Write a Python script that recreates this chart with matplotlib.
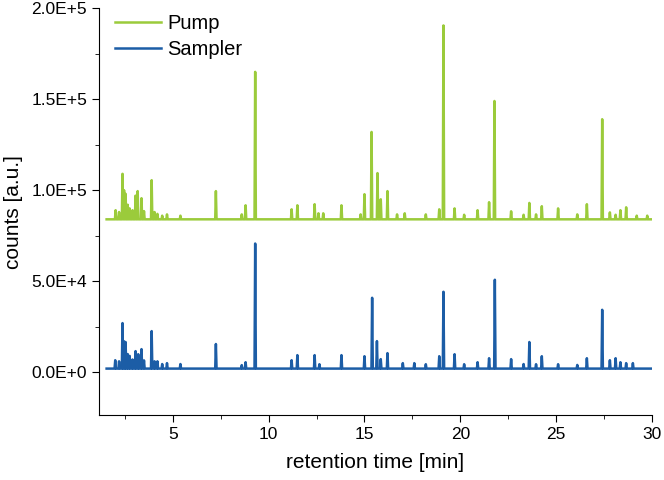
import matplotlib
matplotlib.use('Agg')
from matplotlib import pyplot as plt
from matplotlib.ticker import MultipleLocator

# peak positions [min] and apex heights [counts]
pump_t = [2.02, 2.2, 2.38, 2.46, 2.54, 2.65, 2.75, 2.9, 3.06, 3.17, 3.37, 3.5,
          3.9, 4.05, 4.2, 4.45, 4.7, 5.4,
          7.25, 8.6, 8.8, 9.3, 11.2, 11.5, 12.4, 12.6, 12.85, 13.8, 14.8, 15.0,
          15.37, 15.68, 15.85, 16.2, 16.7, 17.1, 18.2, 18.9, 19.12, 19.7, 20.2,
          20.9, 21.5, 21.78, 22.65, 23.3, 23.6, 23.95, 24.25, 25.1, 26.1, 26.6,
          27.4, 27.8, 28.1, 28.35, 28.65, 29.2, 29.75]
pump_counts = [89000, 88000, 109000, 100000, 98000, 92000, 90000, 89000, 97000,
               99500, 95600, 88500, 105500, 88000, 87000, 86000, 86700, 86000,
               99500, 86700, 91700, 165000, 89500, 91700,
               92300, 87300, 87300, 91700, 86700, 97800, 132000, 109400, 95000,
               99500, 86700, 87300, 86700, 89500, 190500, 90000, 86500, 89000,
               93400, 149000, 88400, 86500, 93000, 86700, 91200, 90000, 86700,
               92300, 139000, 87800, 86500, 89000, 90600, 86000, 86000]
pump_base = 84000

sampler_t = [2.0, 2.2, 2.38, 2.46, 2.54, 2.65, 2.75, 2.9, 3.06, 3.2, 3.37, 3.5,
             3.9, 4.05, 4.2, 4.45, 4.7, 5.4,
             7.25, 8.6, 8.8, 9.3, 11.2, 11.5, 12.4, 12.65, 13.8, 15.0, 15.4,
             15.65, 15.85, 16.2, 17.0, 17.6, 18.2, 18.9, 19.12, 19.7, 20.2, 20.9,
             21.5, 21.8, 22.65, 23.3, 23.6, 23.95, 24.25, 25.1, 26.1, 26.6, 27.4,
             27.8, 28.1, 28.35, 28.65, 29.0]
sampler_counts = [6600, 6000, 27000, 17000, 16600, 10000, 9000, 7000, 11600,
                  9900, 12700, 6500, 22600, 6000, 6000, 4500, 5000, 4500,
                  15500, 3900, 5500, 70700, 6600, 9400, 9400,
                  4400, 9400, 8800, 40900, 17100, 7200, 10500, 5000, 5000, 4400,
                  8800, 44200, 9900, 4400, 5500, 7700, 50800, 7200, 4500, 16600,
                  4400, 8800, 4400, 4000, 7700, 34300, 6600, 7700, 5500, 5000,
                  5000]
sampler_base = 2000

t_start, t_end = 1.55, 30.0

ytick_vals = [0, 50000, 100000, 150000, 200000]
ytick_labels = ['0.0E+0', '5.0E+4', '1.0E+5', '1.5E+5', '2.0E+5']


def trace(pt, ph, base, w=0.035):
    # stick-like peaks on a flat baseline
    t = [t_start]
    y = [base]
    for a, h in zip(pt, ph):
        t += [a - w, a, a + w]
        y += [base, h, base]
    t.append(t_end)
    y.append(base)
    return t, y


plt.rcParams['font.family'] = ['Liberation Sans', 'DejaVu Sans']

fig = plt.figure(figsize=(6.64, 4.8), dpi=100)
ax = fig.add_axes([0.149, 0.135, 0.833, 0.848])

x1, y1 = trace(pump_t, pump_counts, pump_base)
x2, y2 = trace(sampler_t, sampler_counts, sampler_base)
ax.plot(x1, y1, color='#9BCB3B', lw=1.8, label='Pump')
ax.plot(x2, y2, color='#1C5DA6', lw=1.8, label='Sampler')

ax.set_xlim(1.15, 30)
ax.set_ylim(-23600, 200000)
ax.xaxis.set_major_locator(MultipleLocator(5))
ax.xaxis.set_minor_locator(MultipleLocator(2.5))
ax.set_yticks(ytick_vals)
ax.set_yticklabels(ytick_labels)
ax.yaxis.set_minor_locator(MultipleLocator(25000))

ax.spines['top'].set_visible(False)
ax.spines['right'].set_visible(False)
ax.tick_params(which='major', direction='out', length=5, labelsize=12.5)
ax.tick_params(which='minor', direction='out', length=3)

ax.set_xlabel('retention time [min]', fontsize=15, labelpad=8)
ax.set_ylabel('counts [a.u.]', fontsize=15, labelpad=6)

ax.legend(loc='upper left', frameon=False, fontsize=14.5, handlelength=2.3,
          handletextpad=0.3, borderpad=0, borderaxespad=0, labelspacing=0.35,
          bbox_to_anchor=(0.029, 0.985))

fig.savefig('out.png', dpi=100)
